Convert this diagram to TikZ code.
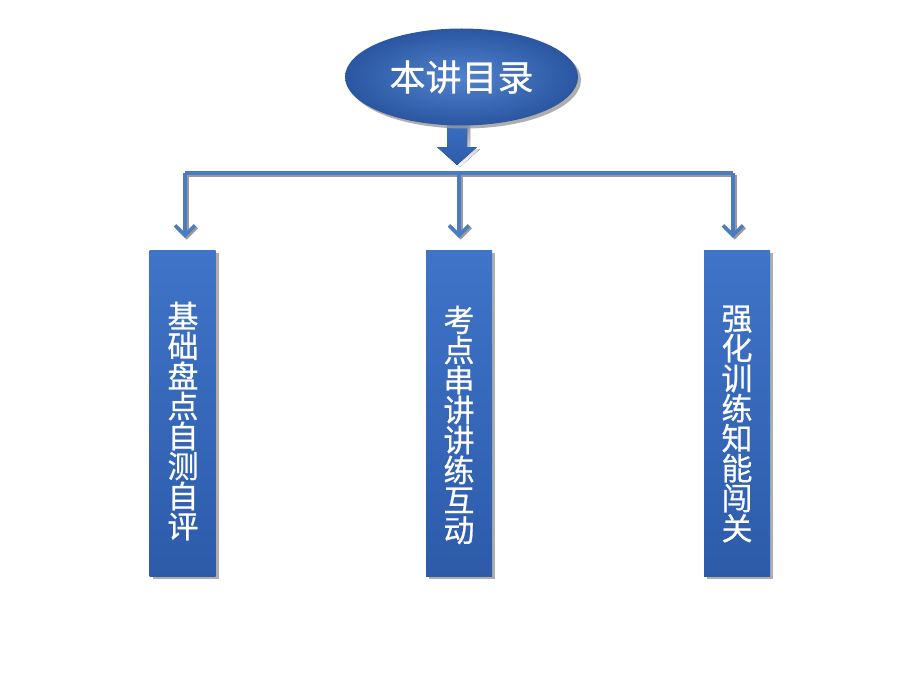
\documentclass[tikz,border=0pt]{standalone}
\usepackage{fontspec}
\newfontfamily\cjk[FakeBold=0.6]{Noto Sans CJK SC}
\usetikzlibrary{arrows.meta,shadows,shapes.geometric}
\definecolor{boxtop}{HTML}{3F74C8}
\definecolor{boxbot}{HTML}{2D5BAA}
\definecolor{linec}{HTML}{4A7CC6}
\definecolor{shade}{HTML}{9A9A9A}
\tikzset{
  topic/.style={rectangle, minimum width=66pt, minimum height=326pt, inner sep=0pt,
    top color=boxtop, bottom color=boxbot, draw=none,
    drop shadow={shadow xshift=3pt, shadow yshift=-3pt, fill=shade, opacity=0.8}},
  topictext/.style={text=white, align=center, inner sep=0pt, font=\cjk\fontsize{31}{30}\selectfont},
  rootnode/.style={ellipse, minimum width=233pt, minimum height=97pt, inner sep=0pt,
    inner color=boxtop!90!white, outer color=boxbot!95!black, draw=none,
    drop shadow={shadow xshift=3pt, shadow yshift=-3pt, fill=shade, opacity=0.8},
    text=white, font=\cjk\fontsize{36}{38}\selectfont},
  conn/.style={draw=linec, line width=3.5pt, line join=miter,
    preaction={draw=shade, line width=3.5pt, transform canvas={shift={(1.8pt,-1.8pt)}}}},
  tipped/.style={conn, -{Straight Barb[length=10pt,width=20pt]}},
}
\begin{document}
\begin{tikzpicture}[x=1pt,y=-1pt]
\useasboundingbox (0,0) rectangle (920,690);
% block arrow under the ellipse
\fill[shade, shift={(3pt,-2pt)}] (447,112) -- (467,112) -- (467,147) -- (477,147) -- (457,165) -- (437,147) -- (447,147) -- cycle;
\fill[top color=boxtop, bottom color=boxbot] (447,112) -- (467,112) -- (467,147) -- (477,147) -- (457,165) -- (437,147) -- (447,147) -- cycle;
\node[rootnode] (root) at (461.5,77) {本讲目录};
% junctions
\coordinate (hl) at (185,173);
\coordinate (hm) at (459,173);
\coordinate (hr) at (733,173);
% boxes
\node[topic] (b1) at (182.5,413) {};
\node[topic] (b2) at (459,413) {};
\node[topic] (b3) at (737,413) {};
\node[topictext] (t1) at (183,421) {基\\础\\盘\\点\\自\\测\\自\\评};
\node[topictext] (t2) at (459,425) {考\\点\\串\\讲\\讲\\练\\互\\动};
\node[topictext] (t3) at (737,424) {强\\化\\训\\练\\知\\能\\闯\\关};
% connectors
\draw[conn] (hl) -- (hr);
\draw[tipped, shorten >=12pt] (hl) -- (hl |- b1.north);
\draw[tipped, shorten >=12pt] (hm) -- (hm |- b2.north);
\draw[tipped, shorten >=12pt] (hr) -- (hr |- b3.north);
\end{tikzpicture}
\end{document}
